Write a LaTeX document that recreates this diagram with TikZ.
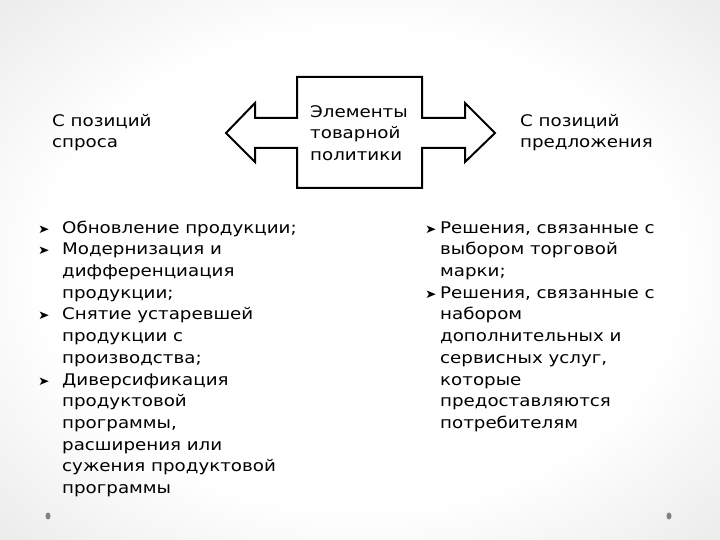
\documentclass[tikz,border=0pt]{standalone}
\usepackage{fontspec}
\setmainfont{DejaVu Sans}[FakeStretch=1.14]
\newcommand{\mylines}[1]{\begin{tabular}{@{}l@{}}#1\end{tabular}}
\newcommand{\blt}{{\fontsize{12}{12}\selectfont ➤}}
\pgfdeclareradialshading{slidebg}{\pgfpoint{0bp}{0bp}}{color(0bp)=(white); color(22bp)=(white); color(50bp)=(black!16); color(72bp)=(black!28)}
\begin{document}
\begin{tikzpicture}[x=1pt,y=-1pt,
  txt/.style={anchor=north west,inner sep=0pt,font=\fontsize{16}{21.7}\selectfont,text=black},
  shapeline/.style={draw=black,line width=2pt,line join=miter},
  dot/.style={fill=black!50,draw=none}]
\useasboundingbox (0,0) rectangle (720,540);
\shade[shading=slidebg] (0,0) rectangle (720,540);
% double arrow with central box
\draw[shapeline] (297,77) -- (422,77) -- (422,118) -- (465,118) -- (465,103) -- (495,133)
  -- (465,162) -- (465,148) -- (422,148) -- (422,188) -- (297,188) -- (297,148)
  -- (255,148) -- (255,162) -- (226,133) -- (255,103) -- (255,118) -- (297,118) -- cycle;
\node[txt] (center) at (310,101.8) {\mylines{Элементы\\товарной\\политики}};
\node[txt] (demand) at (52,110.8) {\mylines{С позиций\\спроса}};
\node[txt] (supply) at (520,110.8) {\mylines{С позиций\\предложения}};
\node[txt] (leftlist) at (38,217.8) {\begin{tabular}{@{}p{24pt}@{}l@{}}
\blt & Обновление продукции;\\
\blt & Модернизация и\\
 & дифференциация\\
 & продукции;\\
\blt & Снятие устаревшей\\
 & продукции с\\
 & производства;\\
\blt & Диверсификация\\
 & продуктовой\\
 & программы,\\
 & расширения или\\
 & сужения продуктовой\\
 & программы
\end{tabular}};
\node[txt] (rightlist) at (425,217.8) {\begin{tabular}{@{}p{15pt}@{}l@{}}
\blt & Решения, связанные с\\
 & выбором торговой\\
 & марки;\\
\blt & Решения, связанные с\\
 & набором\\
 & дополнительных и\\
 & сервисных услуг,\\
 & которые\\
 & предоставляются\\
 & потребителям
\end{tabular}};
\fill[dot] (48,516) ellipse (2.5pt and 3.5pt);
\fill[dot] (669,516) ellipse (2.5pt and 3.5pt);
\end{tikzpicture}
\end{document}
